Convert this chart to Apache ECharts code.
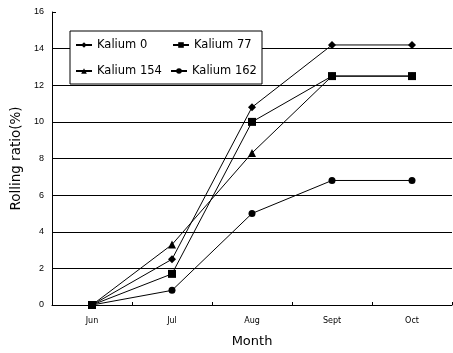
<!DOCTYPE html>
<html><head><meta charset="utf-8">
<script src="https://cdn.jsdelivr.net/npm/echarts@6/dist/echarts.min.js"></script>
<style>html,body{margin:0;padding:0;background:#fff}#c{width:453px;height:353px}</style>
</head><body><div id="c"></div>
<script>
var months = ['Jun', 'Jul', 'Aug', 'Sept', 'Oct'];
var kalium0 = [0, 2.5, 10.8, 14.2, 14.2];
var kalium77 = [0, 1.7, 10.0, 12.5, 12.5];
var kalium154 = [0, 3.3, 8.3, 12.5, 12.5];
var kalium162 = [0, 0.8, 5.0, 6.8, 6.8];
var seriesNames = ['Kalium 0', 'Kalium 77', 'Kalium 154', 'Kalium 162'];

var font = 'Liberation Sans, Arial, sans-serif';
var wide = 'DejaVu Sans, sans-serif';
var chart = echarts.init(document.getElementById('c'), null, {renderer: 'canvas'});
function mk(name, data, sym, size) {
  return {name: name, type: 'line', data: data, symbol: sym, symbolSize: size,
    lineStyle: {color: '#000', width: 1}, itemStyle: {color: '#000'},
    animation: false};
}
function lg(name, left, top) {
  return {data: [name], left: left, top: top, padding: 0, itemWidth: 16, itemHeight: 7,
    textStyle: {fontFamily: wide, fontSize: 11.5, color: '#000'}, z: 5, selectedMode: false};
}
var gridColors = ['rgba(0,0,0,0)', '#000', '#000', '#000', '#000', '#000', '#000', '#000', 'rgba(0,0,0,0)'];
chart.setOption({
  backgroundColor: '#fff',
  animation: false,
  grid: {left: 52, right: 1, top: 12, bottom: 46},
  graphic: [{type: 'rect', shape: {x: 70, y: 31, width: 192, height: 53},
    style: {fill: '#fff', stroke: '#000', lineWidth: 1}, z: 3}],
  legend: [lg(seriesNames[0], 75, 39), lg(seriesNames[1], 172, 39),
           lg(seriesNames[2], 75, 65), lg(seriesNames[3], 170, 65)],
  xAxis: {type: 'category', data: months, boundaryGap: true,
    name: 'Month', nameLocation: 'middle', nameGap: 30,
    nameTextStyle: {fontFamily: wide, fontSize: 13, color: '#000'},
    axisLine: {lineStyle: {color: '#000', width: 1}},
    axisTick: {show: true, inside: true, length: 3, lineStyle: {color: '#000'}},
    axisLabel: {fontFamily: wide, fontSize: 8, color: '#000', margin: 12},
    splitLine: {show: false}},
  yAxis: {type: 'value', min: 0, max: 16, interval: 2,
    name: 'Rolling ratio(%)', nameLocation: 'middle', nameGap: 26,
    nameTextStyle: {fontFamily: wide, fontSize: 13.5, color: '#000'},
    axisLine: {show: true, lineStyle: {color: '#000', width: 1}},
    axisTick: {show: true, inside: true, length: 4, lineStyle: {color: '#000'}},
    axisLabel: {fontFamily: font, fontSize: 9, color: '#000', margin: 8},
    splitLine: {show: true, lineStyle: {color: gridColors, width: 1}}},
  series: [
    mk(seriesNames[0], kalium0, 'diamond', 8),
    mk(seriesNames[2], kalium154, 'triangle', 8),
    mk(seriesNames[3], kalium162, 'circle', 7),
    mk(seriesNames[1], kalium77, 'rect', 8)
  ]
});
</script></body></html>
